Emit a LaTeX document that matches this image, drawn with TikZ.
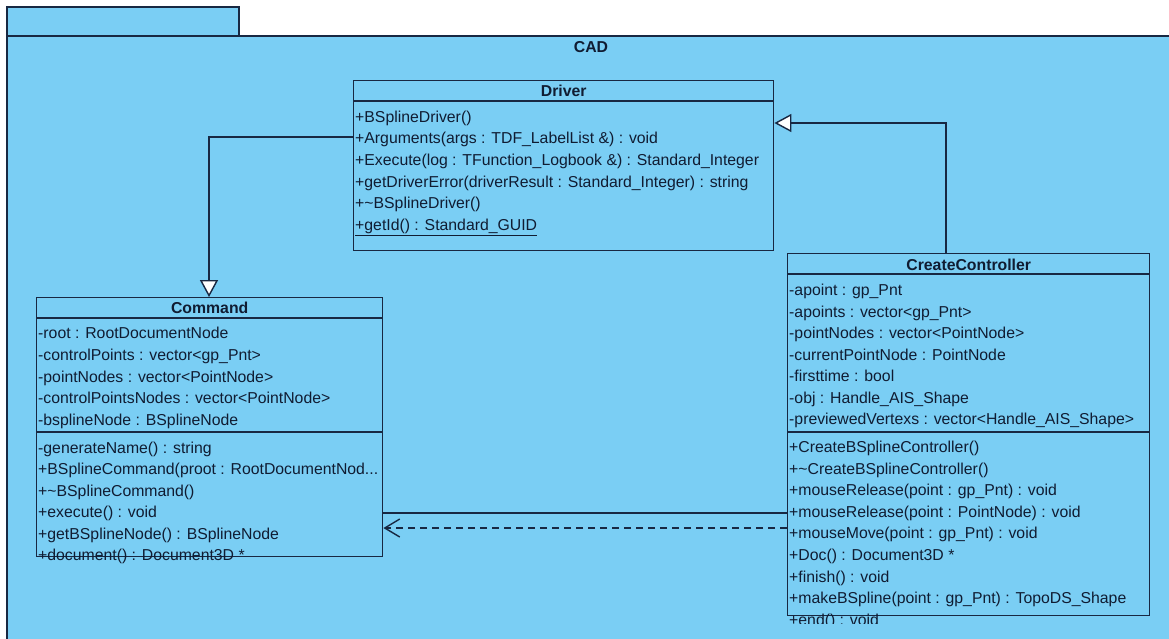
\documentclass[tikz,border=0pt]{standalone}
\usepackage{fontspec}
\setmainfont{Liberation Sans}
\usetikzlibrary{arrows.meta}
\definecolor{pkgfill}{RGB}{122,206,244}
\definecolor{edge}{RGB}{24,40,66}
\definecolor{ink}{RGB}{16,28,50}
\newcommand\clipdots{...}

\begin{document}
\begin{tikzpicture}[x=1pt,y=-1pt,
  font=\fontsize{15.8}{19}\selectfont, text=ink,
  pkg/.style={draw=edge, fill=pkgfill, line width=1.4pt},
  classbox/.style={draw=edge, fill=pkgfill, line width=1.4pt, rectangle, inner sep=0pt, anchor=north west},
  rule/.style={draw=edge, line width=1.4pt},
  title/.style={font=\fontsize{15.8}{19}\selectfont\bfseries, anchor=base, inner sep=0pt},
  member/.style={anchor=base west, inner sep=0pt},
  gen/.style={draw=edge, line width=1.4pt, -{Triangle[length=17pt,width=18pt,fill=white]}},
  dep/.style={draw=edge, line width=1.4pt, dash pattern=on 7pt off 5pt, -{Straight Barb[length=15pt,width=18pt]}},
  assoc/.style={draw=edge, line width=1.4pt}
]
\useasboundingbox (0,0) rectangle (1169,638);
\fill[white] (0,0) rectangle (1169,638);

% package CAD: tab and body
\path[pkg] (7,7) rectangle (239,36);
\path[pkg] (7,36) rectangle (1177,648);
\node[title] (pkgName) at (591,52) {CAD};

% class Driver
\node[classbox, minimum width=420pt, minimum height=170pt] (drv) at (353,80) {};
\draw[rule] ([yshift=-21pt]drv.north west) -- ([yshift=-21pt]drv.north east);
\node[title] (drvName) at ([yshift=-16pt]drv.north) {Driver};
\foreach \txt [count=\i, evaluate=\i as \dy using -42.3-21.6*(\i-1)] in
  {{+BSplineDriver()},
   {+Arguments(args : TDF\_LabelList \&) : void},
   {+Execute(log : TFunction\_Logbook \&) : Standard\_Integer},
   {+getDriverError(driverResult : Standard\_Integer) : string},
   {+\textasciitilde BSplineDriver()},
   {\underline{+getId() : Standard\_GUID}}}
  \node[member] (drvOp\i) at ([xshift=2pt,yshift=\dy pt]drv.north west) {\txt};

% class Command
\node[classbox, minimum width=346pt, minimum height=259pt] (cmd) at (36,297) {};
\draw[rule] ([yshift=-21pt]cmd.north west) -- ([yshift=-21pt]cmd.north east);
\draw[rule] ([yshift=-135pt]cmd.north west) -- ([yshift=-135pt]cmd.north east);
\node[title] (cmdName) at ([yshift=-16.5pt]cmd.north) {Command};
\foreach \txt [count=\i, evaluate=\i as \dy using -41.8-21.65*(\i-1)] in
  {{-root : RootDocumentNode},
   {-controlPoints : vector<gp\_Pnt>},
   {-pointNodes : vector<PointNode>},
   {-controlPointsNodes : vector<PointNode>},
   {-bsplineNode : BSplineNode}}
  \node[member] (cmdAttr\i) at ([xshift=2pt,yshift=\dy pt]cmd.north west) {\txt};
\foreach \txt [count=\i, evaluate=\i as \dy using -156.5-21.4*(\i-1)] in
  {{-generateName() : string},
   {+BSplineCommand(proot : RootDocumentNod\clipdots},
   {+\textasciitilde BSplineCommand()},
   {+execute() : void},
   {+getBSplineNode() : BSplineNode},
   {+document() : Document3D *}}
  \node[member] (cmdOp\i) at ([xshift=2pt,yshift=\dy pt]cmd.north west) {\txt};

% class CreateController
\node[classbox, minimum width=362pt, minimum height=362pt] (cc) at (787,253) {};
\draw[rule] ([yshift=-21pt]cc.north west) -- ([yshift=-21pt]cc.north east);
\draw[rule] ([yshift=-179pt]cc.north west) -- ([yshift=-179pt]cc.north east);
\node[title] (ccName) at ([yshift=-17pt]cc.north) {CreateController};
\foreach \txt [count=\i, evaluate=\i as \dy using -42.5-21.5*(\i-1)] in
  {{-apoint : gp\_Pnt},
   {-apoints : vector<gp\_Pnt>},
   {-pointNodes : vector<PointNode>},
   {-currentPointNode : PointNode},
   {-firsttime : bool},
   {-obj : Handle\_AIS\_Shape},
   {-previewedVertexs : vector<Handle\_AIS\_Shape>}}
  \node[member] (ccAttr\i) at ([xshift=2pt,yshift=\dy pt]cc.north west) {\txt};
\foreach \txt [count=\i, evaluate=\i as \dy using -199.5-21.6*(\i-1)] in
  {{+CreateBSplineController()},
   {+\textasciitilde CreateBSplineController()},
   {+mouseRelease(point : gp\_Pnt) : void},
   {+mouseRelease(point : PointNode) : void},
   {+mouseMove(point : gp\_Pnt) : void},
   {+Doc() : Document3D *},
   {+finish() : void},
   {+makeBSpline(point : gp\_Pnt) : TopoDS\_Shape}}
  \node[member] (ccOp\i) at ([xshift=2pt,yshift=\dy pt]cc.north west) {\txt};
\begin{scope}
  \clip (780,600) rectangle (1160,623);
  \node[member] (ccOp9) at ([xshift=2pt,yshift=-372.3pt]cc.north west) {+end() : void};
\end{scope}

% relations
\draw[gen] ([yshift=-57pt]drv.north west) -| ([xshift=173pt]cmd.north west);
\draw[gen] ([xshift=159pt]cc.north west) |- ([yshift=-43pt]drv.north east);
\draw[assoc] ([yshift=-260pt]cc.north west) -- ([yshift=-216pt]cmd.north east);
\draw[dep] ([yshift=-275pt]cc.north west) -- ([yshift=-231pt]cmd.north east);
\end{tikzpicture}
\end{document}
